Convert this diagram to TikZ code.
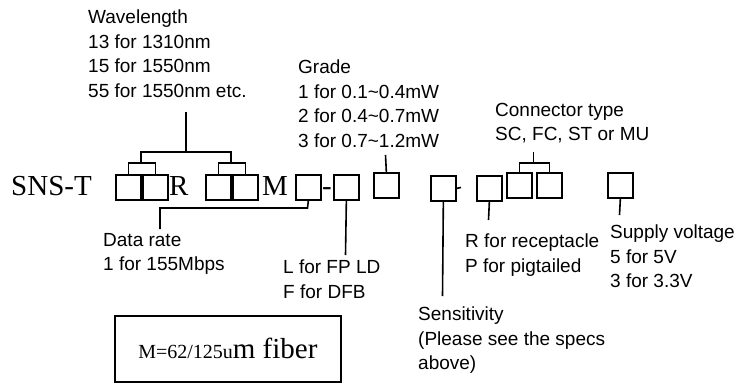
\documentclass[tikz,border=0pt]{standalone}
\usepackage{fontspec}
\setmainfont{Liberation Serif}
\setsansfont{Liberation Sans}
\begin{document}
\begin{tikzpicture}[x=1pt,y=-1pt,
  box/.style={draw, line width=1.7pt, minimum width=25pt, minimum height=25pt, inner sep=0pt, anchor=north west},
  lbl/.style={font=\sffamily\fontsize{19}{24.5}\selectfont, align=left, anchor=north west, inner sep=0pt},
  big/.style={font=\fontsize{29}{32}\selectfont, anchor=base west, inner sep=0pt},
  conn/.style={line width=1.6pt}]
\useasboundingbox (0,0) rectangle (743,383);
% code row
\node[big] (sns) at (11,195) {SNS-T};
\node[box] (b1) at (115,174) {};
\node[box] (b2) at (142,174) {};
\node[big] (r) at (169,195) {R};
\node[box] (b3) at (205,174) {};
\node[box] (b4) at (232,174) {};
\node[big] (m) at (262,195) {M};
\node[box] (b5) at (295,174) {};
\node[big] (hy) at (322,195) {-};
\node[box] (b6) at (333,174) {};
\node[box] (b7) at (373,172) {};
\node[box] (b8) at (430,175) {};
\node[box] (b9) at (476,175) {};
\node[box] (b10) at (506,172) {};
\node[box] (b11) at (536,172) {};
\node[box] (b12) at (607,172) {};
% labels
\node[lbl] (wave) at (88,10) {Wavelength\\13 for 1310nm\\15 for 1550nm\\55 for 1550nm etc.};
\node[lbl] (grade) at (298,60) {Grade\\1 for 0.1\textasciitilde0.4mW\\2 for 0.4\textasciitilde0.7mW\\3 for 0.7\textasciitilde1.2mW};
\node[lbl] (ctype) at (495,103) {Connector type\\SC, FC, ST or MU};
\node[lbl] (rate) at (103,233) {Data rate\\1 for 155Mbps};
\node[lbl] (laser) at (283,260) {L for FP LD\\F for DFB};
\node[lbl] (sens) at (418,307) {Sensitivity\\(Please see the specs\\above)};
\node[lbl] (recp) at (465,234) {R for receptacle\\P for pigtailed};
\node[lbl] (supply) at (610,225) {Supply voltage\\5 for 5V\\3 for 3.3V};
% fiber box
\node[draw, line width=1.7pt, minimum width=226pt, minimum height=66pt, anchor=north west, inner sep=0pt, font=\fontsize{29}{32}\selectfont] (fiber) at (114,315) {{\fontsize{20}{22}\selectfont M=62/125u}m fiber};
% connector coordinates
\coordinate (j12) at (141,163);
\coordinate (j34) at (231,163);
\coordinate (jw) at (186,152);
\coordinate (wtop) at (186,112);
\coordinate (gtop) at (385.5,155);
\coordinate (j1011) at (533.5,163);
\coordinate (ctop) at (533.5,152);
\coordinate (d1) at (307.5,208);
\coordinate (d2) at (160,229);
\coordinate (lend) at (345.5,255);
\coordinate (send) at (442.5,296);
\coordinate (rend) at (488.5,220);
\coordinate (vend) at (619.5,215);
\coordinate (t8) at (461,187.5);
% connectors
\draw[conn] (b1.north) |- (j12) -| (b2.north);
\draw[conn] (b3.north) |- (j34) -| (b4.north);
\draw[conn] (j12) |- (jw) -| (j34);
\draw[conn] (wtop) -- (jw);
\draw[conn] (b7.north) -- (gtop);
\draw[conn] (b10.north) |- (j1011) -| (b11.north);
\draw[conn] (j1011) -- (ctop);
\draw[conn] (b5.south) -- (d1) -| (d2);
\draw[conn] (b6.south) -- (lend);
\draw[conn] (b8.south) -- (send);
\draw[conn] (b8.east) -- (t8);
\draw[conn] (b9.south) -- (rend);
\draw[conn] (b12.south) -- (vend);
\end{tikzpicture}
\end{document}
